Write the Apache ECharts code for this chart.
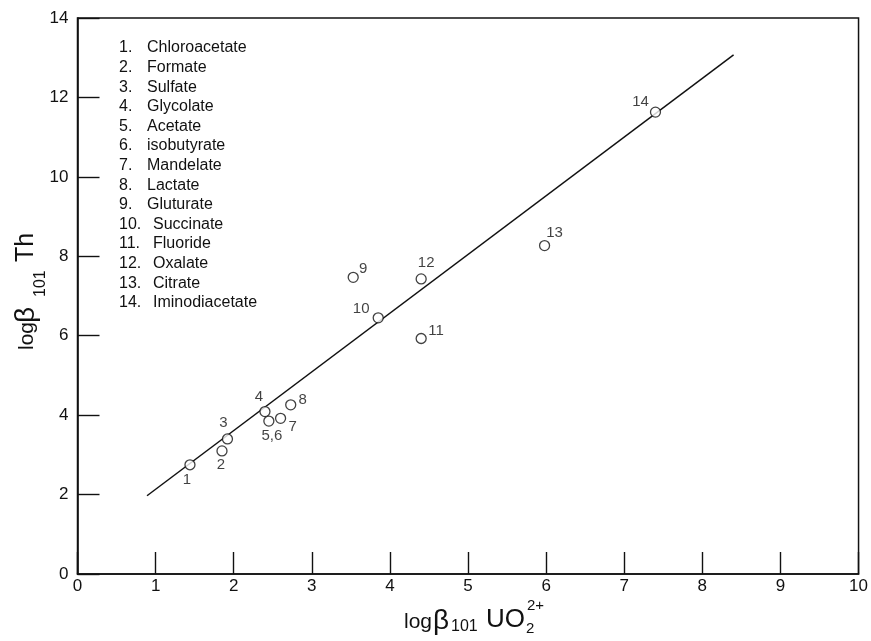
<!DOCTYPE html>
<html>
<head>
<meta charset="utf-8">
<script src="https://cdn.jsdelivr.net/npm/echarts@6/dist/echarts.min.js"></script>
<style>
html,body{margin:0;padding:0;background:#fff;}
#main{width:871px;height:641px;}
</style>
</head>
<body>
<div id="main"></div>
<script>
// ---- data ----
const compoundNames = ['Chloroacetate','Formate','Sulfate','Glycolate','Acetate','isobutyrate','Mandelate','Lactate','Gluturate','Succinate','Fluoride','Oxalate','Citrate','Iminodiacetate'];
const pointLabels = ['1','2','3','4','5,6','7','8','9','10','11','12','13','14'];
const logBetaUO2 = [1.44, 1.85, 1.92, 2.40, 2.45, 2.60, 2.73, 3.53, 3.85, 4.40, 4.40, 5.98, 7.40];
const logBetaTh  = [2.75, 3.10, 3.40, 4.09, 3.85, 3.92, 4.26, 7.47, 6.45, 5.93, 7.43, 8.27, 11.63];
const fitLineX = [0.89, 8.40];
const fitLineY = [1.97, 13.07];
const xTicks = [0,1,2,3,4,5,6,7,8,9,10];
const yTicks = [0,2,4,6,8,10,12,14];

// ---- layout / style (not data) ----
const labelOffsets = [[-3,15],[-1,14],[-4,-16],[-6,-15],[3,15],[12,9],[12,-5],[10,-8],[-17,-9],[15,-8],[5,-16],[10,-13],[-15,-10]];
const FONT = 'Liberation Sans, Arial, Helvetica, sans-serif';
const INK = '#111';

const chart = echarts.init(document.getElementById('main'), null, {renderer:'canvas'});

const scatterData = logBetaUO2.map((x,i)=>({
  value:[x, logBetaTh[i]],
  label:{show:true, formatter:pointLabels[i], position:'inside', offset:labelOffsets[i]}
}));

// legend list as graphic texts
const legendEls = [];
compoundNames.forEach((n,i)=>{
  const y = 48 + i*19.6;
  legendEls.push({type:'text', x:119, y:y, style:{text:(i+1)+'.', font:'16px '+FONT, fill:INK, verticalAlign:'middle', align:'left'}});
  legendEls.push({type:'text', x:(i<9?147:153), y:y, style:{text:n, font:'16px '+FONT, fill:INK, verticalAlign:'middle', align:'left'}});
});

function t(x,y,text,size){
  return {type:'text', x:x, y:y, style:{text:text, font:size+'px '+FONT, fill:INK, verticalAlign:'middle', align:'left'}};
}
// axis titles built from pieces (sub/superscripts)
const xTitle = {type:'group', children:[
  t(404,622,'log',21),
  t(433,621,'β',28),
  t(451,627,'101',16),
  t(486,620,'UO',26),
  t(526,629,'2',15),
  t(527,606,'2+',15)
]};
const yTitle = {type:'group', x:0, y:350, rotation:Math.PI/2, children:[
  t(0,27,'log',21),
  t(27,26,'β',28),
  t(53,41,'101',16),
  t(88,26,'Th',25)
]};

chart.setOption({
  animation:false,
  backgroundColor:'#fff',
  textStyle:{fontFamily:FONT},
  grid:{left:77.5, right:11, top:18, bottom:67, show:true, borderColor:INK, borderWidth:1.5, backgroundColor:'transparent'},
  xAxis:{type:'value', min:0, max:10, interval:1,
    axisLine:{show:true, onZero:false, lineStyle:{color:INK, width:1.6}},
    axisTick:{show:true, inside:true, length:22, lineStyle:{color:INK, width:1.4}},
    axisLabel:{fontSize:17, color:INK, margin:4, fontFamily:FONT,
      formatter:v=>xTicks.includes(v)?String(v):''},
    splitLine:{show:false}},
  yAxis:{type:'value', min:0, max:14, interval:2,
    axisLine:{show:true, onZero:false, lineStyle:{color:INK, width:1.6}},
    axisTick:{show:true, inside:true, length:22, lineStyle:{color:INK, width:1.4}},
    axisLabel:{fontSize:17, color:INK, margin:9, fontFamily:FONT,
      formatter:v=>yTicks.includes(v)?String(v):''},
    splitLine:{show:false}},
  series:[
    {type:'line', data:fitLineX.map((x,i)=>[x,fitLineY[i]]), showSymbol:false, symbol:'none',
      lineStyle:{color:INK, width:1.5}, z:2, silent:true},
    {type:'scatter', data:scatterData, symbol:'circle', symbolSize:10,
      itemStyle:{color:'#fff', borderColor:INK, borderWidth:1.3}, z:3,
      label:{show:true, color:INK, fontSize:15, fontFamily:FONT, align:'center', verticalAlign:'middle'}}
  ],
  graphic:[{type:'group', children:legendEls}, xTitle, yTitle]
});
</script>
</body>
</html>
